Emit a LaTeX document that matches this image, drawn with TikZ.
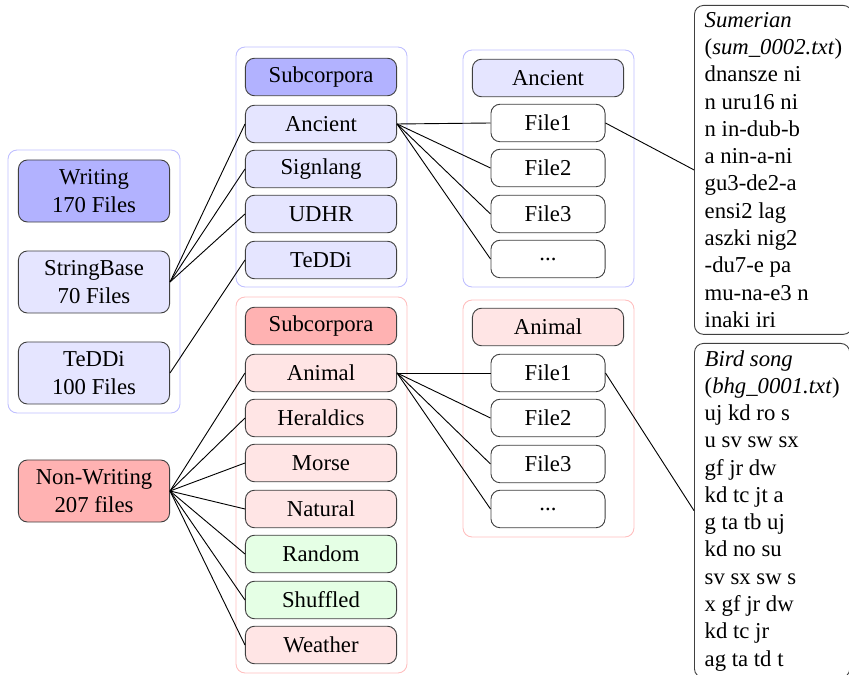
\documentclass[tikz,border=0pt]{standalone}
\usepackage{fontspec}
\setmainfont{Liberation Serif}
\usetikzlibrary{positioning}

\begin{document}
\begin{tikzpicture}
  [
    x=0.44pt, y=-0.44pt,
    group/.style={rounded corners=4pt,line width=0.4pt},
    cell/.style={draw=black!75,rounded corners=4pt,minimum width=66.5pt,minimum height=16.5pt,inner sep=1pt},
    corpus/.style={cell,minimum height=27.3pt,align=center},
    file/.style={cell,minimum width=50.2pt,fill=white},
    sample/.style={draw=black!75,rounded corners=4pt,anchor=north west,align=left,inner xsep=4.5pt,inner ysep=3pt}
  ]
  \useasboundingbox (0,0) rectangle (849,675);
  % groups
  \draw [group,draw=blue!25] (8,150) rectangle (180,413);
  \draw [group,draw=blue!25] (236,47) rectangle (407,287);
  \draw [group,draw=blue!25] (463,50) rectangle (634,287);
  \draw [group,draw=red!25] (236,297) rectangle (407,673);
  \draw [group,draw=red!25] (463,300) rectangle (634,537);
  % corpora
  \node [corpus,fill=blue!30] (writing) at (94,191) {Writing\\170 Files};
  \node [corpus,fill=blue!10] (stringbase) at (94,282) {StringBase\\70 Files};
  \node [corpus,fill=blue!10] (teddi) at (94,373) {TeDDi\\100 Files};
  \node [corpus,fill=red!30] (nonwriting) at (94,491) {Non-Writing\\207 files};
  % writing subcorpora
  \node [cell,fill=blue!30] (wsub) at (321,77) {Subcorpora};
  \foreach \name/\y in {Ancient/124,Signlang/169,UDHR/214,TeDDi/260} {
      \node [cell,fill=blue!10] (w\name) at (321,\y) {\name};
  }
  % non-writing subcorpora
  \node [cell,fill=red!30] (nsub) at (321,326) {Subcorpora};
  \foreach \name/\y/\c in {Animal/373/red,Heraldics/418/red,Morse/463/red,Natural/509/red,Random/554/green,Shuffled/600/green,Weather/645/red} {
      \node [cell,fill=\c!10] (n\name) at (321,\y) {\name};
  }
  % files
  \node [cell,fill=blue!10] (afiles) at (548,78) {Ancient};
  \node [cell,fill=red!10] (nfiles) at (548,327) {Animal};
  \foreach \i/\y in {1/123,2/168,3/214} {
      \node [file] (af\i) at (548,\y) {File\i};
      \node [file] (nf\i) at (548,\y+250) {File\i};
  }
  \node [file] (af4) at (548,259) {...};
  \node [file] (nf4) at (548,509) {...};
  % samples
  \node [sample] (sumerian) at (694,5)
  {%
    \textit{Sumerian}\\(\textit{sum\_0002.txt})\\dnansze ni\\n uru16 ni\\n in-dub-b\\a nin-a-ni\\
    gu3-de2-a\\ensi2 lag\\aszki nig2\\-du7-e pa\\mu-na-e3 n\\inaki iri
  };%
  \node [sample] (birdsong) at (694,343)
  {%
    \textit{Bird song}\\(\textit{bhg\_0001.txt})\\uj kd ro s\\u sv sw sx\\gf jr dw\\kd tc jt a\\
    g ta tb uj\\kd no su\\sv sx sw s\\x gf jr dw\\kd tc jr\\ag ta td t
  };%
  % edges corpora - subcorpora
  \foreach \name in {Ancient,Signlang,UDHR} {
      \draw (stringbase.east) -- (w\name.west);
  }
  \draw (teddi.east) -- (wTeDDi.west);
  \foreach \name in {Animal,Heraldics,Morse,Natural,Random,Shuffled,Weather} {
      \draw (nonwriting.east) -- (n\name.west);
  }
  % edges subcorpora - files
  \foreach \i in {1,...,4} {
      \draw (wAncient.east) -- (af\i.west);
      \draw (nAnimal.east) -- (nf\i.west);
  }
  % edges files - samples
  \draw (af1.east) -- (sumerian.west);
  \draw (nf1.east) -- (birdsong.west);
\end{tikzpicture}
\end{document}
